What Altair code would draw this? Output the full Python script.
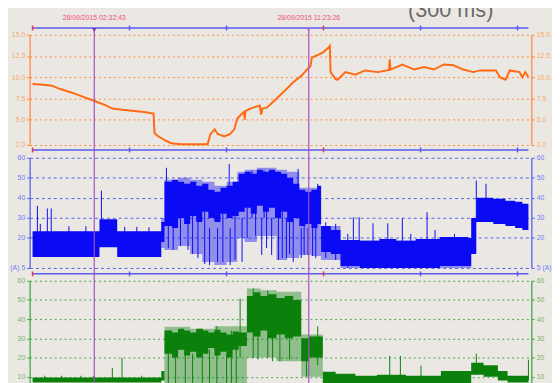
import altair as alt
import pandas as pd

# ---- time axis: hours since 28/09/2015 00:00 ----
X_DOMAIN = [-0.12, 20.57]
time_line_t = [0.0]
time_line_t2 = [20.45]
time_tick_t = [0, 4, 8, 12, 16, 20]
time_tick_col = ["#e83a3a", "#5a5af0", "#5a5af0", "#e83a3a", "#5a5af0", "#5a5af0"]

cursor_t = [2.5453, 11.3906]
cursor_label = ["28/09/2015 02:32:43", "28/09/2015 11:23:26"]
cursor_fill = ["#6a1f8a", "#b070d0"]

# ---- orange series ----
orange_t = [0.00, 0.45, 0.80, 1.14, 1.60, 2.07, 2.64, 3.00, 3.29, 3.70,
            4.10, 4.60, 4.99, 5.03, 5.15, 5.31, 5.50, 5.72, 6.13, 6.70,
            7.22, 7.34, 7.51, 7.63, 7.91, 8.15, 8.32, 8.44, 8.60, 8.72,
            8.75, 8.78, 8.97, 9.37, 9.43, 9.48, 9.66, 10.06, 10.40, 10.75,
            11.10, 11.40, 11.46, 11.52, 11.97, 12.21, 12.26, 12.29, 12.49, 12.58,
            12.90, 13.31, 13.71, 14.24, 14.70, 14.73, 14.76, 15.25, 15.74, 16.15,
            16.55, 16.96, 17.36, 17.77, 18.17, 18.46, 19.11, 19.27, 19.51, 19.68,
            20.08, 20.20, 20.32, 20.45]
orange_v = [9.2, 9.1, 9.0, 8.6, 8.2, 7.7, 7.1, 6.7, 6.3, 6.15,
            6.05, 5.9, 5.7, 3.4, 3.1, 2.8, 2.5, 2.2, 2.1, 2.1,
            2.1, 3.3, 3.85, 3.3, 3.0, 3.3, 3.85, 5.1, 5.6, 5.9,
            5.0, 6.0, 6.3, 6.65, 5.6, 6.3, 6.4, 7.45, 8.4, 9.4,
            10.2, 11.15, 11.3, 12.3, 12.9, 13.5, 13.7, 10.6, 9.8, 9.7,
            10.6, 10.3, 10.8, 10.6, 10.85, 12.1, 10.9, 11.5, 10.9, 11.2,
            10.9, 11.5, 11.4, 10.9, 10.6, 10.8, 10.8, 10.0, 9.7, 10.8,
            10.6, 10.0, 10.6, 10.0]
orange_ticks = [2, 5, 7.5, 10, 12.5, 15]

# ---- blue series (envelopes) ----
blue_t = [0.00, 2.76, 3.49, 5.31, 5.44,
          5.75, 6.00, 6.25, 6.50, 6.75, 7.00, 7.25, 7.50, 7.75, 8.00, 8.25, 8.50, 8.75,
          9.00, 9.25, 9.50, 9.75, 10.00, 10.25, 10.50, 10.75, 11.00, 11.25, 11.50, 11.75,
          11.90, 12.30, 12.70,
          13.50, 14.30, 15.00, 15.80, 16.80, 17.97,
          18.09, 18.30, 19.00, 19.50, 19.90, 20.20, 20.45]
blue_lo = [10.5, 15.4, 10.5, 18, 26,
           25, 30, 27, 31, 28, 33, 30, 28, 32, 30, 31, 33, 35,
           32, 36, 33, 35, 30, 33, 28, 30, 26, 27, 25, 27,
           13, 12, 6,
           5, 5, 5, 5, 6, 6,
           12, 28, 27, 26, 25, 24, 24]
blue_hi = [23.3, 29.3, 23.3, 28, 48,
           49, 48, 47, 48, 46, 47, 44, 43, 45, 46, 48, 52, 53,
           52, 54, 53, 54, 53, 52, 50, 47, 44, 43, 44, 46,
           26, 24, 19,
           18.5, 19.5, 18.5, 19.5, 20.4, 20,
           30, 40, 39.5, 38.5, 38, 37, 37]
blue_env_t = [5.31, 5.44, 6.00, 6.50, 7.00, 7.50, 8.00, 8.44, 8.75, 9.25, 10.06, 10.50,
              11.00, 11.50, 11.89, 12.70, 18.09]
blue_env_lo = [15, 14, 16, 12, 8, 6.5, 8, 20, 18, 21, 9, 10, 11.5, 11, 9, 5, 5]
blue_env_hi = [30, 49, 50, 49, 48, 46, 48, 53, 54, 55, 54, 53, 45, 45, 26, 19, 19]
blue_spk_t = [0.20, 0.32, 0.61, 0.77, 1.50, 2.20, 2.84, 3.80, 4.30, 4.80,
              5.52, 5.60, 5.80, 6.10, 6.41, 6.60, 6.82, 7.10, 7.30, 7.63,
              7.85, 8.11, 8.15, 8.35, 8.64, 8.85, 9.05, 9.20, 9.45, 9.55,
              9.65, 9.86, 10.14, 10.30, 10.47, 10.60, 10.75, 10.95, 11.08, 11.20,
              11.36, 11.55, 11.68, 11.76, 12.09, 12.50, 13.00, 13.23, 13.47, 14.04,
              14.65, 15.25, 15.60, 16.27, 16.60, 17.40, 18.30, 18.70]
blue_spk_lo = [20, 20, 20, 20, 22, 22, 25, 22, 22, 22,
               30, 15, 14, 16, 14, 12, 10, 7, 6.5, 8,
               8, 30, 6.5, 9, 8, 20, 30, 21, 11.5, 30,
               15, 11.5, 9, 10, 10, 12, 8, 30, 10, 11.5,
               11.5, 11, 10, 30, 10, 9, 5, 10, 10, 10,
               10, 10, 5, 10, 5, 6, 30, 30]
blue_spk_hi = [36, 27, 34.7, 34.7, 25.8, 25.8, 43.6, 25.5, 25.5, 25.3,
               55, 26, 30, 30, 30, 31, 30, 33, 25, 25,
               32, 57, 25, 31, 30, 35, 53.6, 36, 30, 53.6,
               35, 30, 30, 33, 30, 28, 30, 54.5, 25, 27,
               25, 25, 25, 47, 27.8, 27, 22, 30.3, 30.3, 27.3,
               27.3, 29.8, 22, 32.8, 24, 22, 48.6, 47]
blue_ticks = [5, 20, 30, 40, 50, 60]

# ---- green series ----
green_t = [0.00, 5.31, 5.44, 5.75, 6.00, 6.25, 6.50, 6.75, 7.00, 7.25, 7.50, 7.75, 8.00,
           8.25, 8.50, 8.84, 9.10, 9.40, 9.70, 10.06, 10.40, 10.75, 11.08, 11.40,
           11.97, 12.50, 13.31, 14.20, 15.40, 16.84, 18.09, 18.60, 19.19, 19.59, 20.45]
green_lo = [7, 8, 22, 20, 24, 21, 23, 20, 22, 25, 21, 23, 20,
            24, 26, 33, 31, 34, 30, 32, 30, 31, 18, 20,
            6, 6, 6, 6, 6, 6, 11, 10, 8, 7, 7]
green_hi = [9.5, 13, 34, 33, 35, 34, 33, 35, 34, 33, 34.5, 33, 32,
            33.5, 33, 52, 54, 52, 53, 51, 52, 50, 30, 31,
            12.5, 11.5, 10.5, 11, 10.5, 13, 17.2, 16, 13, 10.5, 10.5]
green_env_t = [5.44, 6.50, 7.50, 8.84, 9.40, 10.06, 11.08, 11.97]
green_env_lo = [3, 4, 3, 19.8, 20, 18, 10, 10]
green_env_hi = [36, 35, 36.3, 56, 55, 54.3, 32, 32]
green_spk_t = [0.50, 1.20, 2.00, 2.50, 3.29, 3.69, 4.50, 5.60, 5.90, 6.30,
               6.60, 7.00, 7.30, 7.60, 8.00, 8.20, 8.40, 8.56, 9.10, 9.30,
               9.70, 9.90, 10.20, 10.60, 11.30, 11.76, 14.73, 15.17, 16.02, 18.30,
               20.45]
green_spk_lo = [8, 8, 8, 8, 8, 8, 8, 3, 3, 5,
                4, 4, 3, 3, 5, 5, 4, 20, 19.8, 19,
                19.8, 18, 18, 19, 10, 16, 8, 8, 8, 11,
                8]
green_spk_hi = [10.5, 10.5, 10.5, 10.5, 14.6, 19.8, 10.5, 34, 22, 34,
                22, 35, 24, 36.3, 22, 34, 25, 50.7, 56, 32,
                55, 31, 50, 32, 19, 36.3, 20.8, 20.8, 15.7, 21.9,
                18.8]
green_ticks = [0, 10, 20, 30, 40, 50, 60]

# ---- styling ----
BG = "#ebe8e4"
OR_LINE, OR_AX, OR_LAB = "#ff6a13", "#ff8b3d", "#f5a868"
BL_LINE, BL_AX, BL_LAB = "#0a0af5", "#5560f0", "#6f7cf0"
GR_LINE, GR_AX, GR_LAB = "#0b800b", "#3fa64a", "#74b46a"
TL_COL = "#5a5af0"
CURSOR = "#a64fc6"
DATE_COL = "#ee4f78"
W = 510
H_OR, H_BL, H_GR = 112, 112, 117
GAP = 13

xenc = alt.X("t:Q", scale=alt.Scale(domain=X_DOMAIN, nice=False, zero=False), axis=None)

cursor_df = pd.DataFrame({"t": cursor_t, "label": cursor_label, "fill": cursor_fill})
tl_df = pd.DataFrame({"t": time_line_t, "t2": time_line_t2})
tt_df = pd.DataFrame({"t": time_tick_t, "c": time_tick_col})


def axes_layers(domain, ticks, ax_col, lab_col, dash, left_expr, right_expr):
    yscale = alt.Scale(domain=domain, nice=False, zero=False)
    df = pd.DataFrame({"v": ticks})
    common = dict(values=ticks, domainColor=ax_col, domainWidth=1.3, tickColor=ax_col,
                  tickSize=3, tickWidth=1, labelColor=lab_col, labelFont="Liberation Sans",
                  labelFontSize=7, labelPadding=2, title=None)
    left = alt.Chart(df).mark_point(opacity=0).encode(
        y=alt.Y("v:Q", scale=yscale, axis=alt.Axis(orient="left", grid=True, gridColor=ax_col,
                                                   gridDash=dash, gridWidth=1,
                                                   labelExpr=left_expr, **common)))
    right = alt.Chart(df).mark_point(opacity=0).encode(
        y=alt.Y("v:Q", scale=yscale, axis=alt.Axis(orient="right", grid=False,
                                                   labelExpr=right_expr, **common)))
    return yscale, left, right


def time_line(yp):
    line = alt.Chart(tl_df).mark_rule(color=TL_COL, strokeWidth=1.5).encode(
        x=xenc, x2="t2:Q", y=alt.value(yp))
    ticks = alt.Chart(tt_df).mark_rule(strokeWidth=1.5).encode(
        x=xenc, y=alt.value(yp - 2.5), y2=alt.value(yp + 2.5), color=alt.Color("c:N", scale=None))
    return [line, ticks]


def cursors(y0, y1):
    return alt.Chart(cursor_df).mark_rule(color=CURSOR, strokeWidth=1.2).encode(
        x=xenc, y=alt.value(y0), y2=alt.value(y1))


def band(t, lo, hi, yscale, color, opacity, interp="step-after"):
    df = pd.DataFrame({"t": t, "lo": lo, "hi": hi})
    return alt.Chart(df).mark_area(interpolate=interp, color=color, opacity=opacity).encode(
        x=xenc, y=alt.Y("lo:Q", scale=yscale, axis=None), y2="hi:Q")


def spikes(t, lo, hi, yscale, color):
    df = pd.DataFrame({"t": t, "lo": lo, "hi": hi})
    return alt.Chart(df).mark_rule(color=color, strokeWidth=1).encode(
        x=xenc, y=alt.Y("lo:Q", scale=yscale, axis=None), y2="hi:Q")


# ---- orange panel ----
ys_o, ax_ol, ax_or = axes_layers([2, 15], orange_ticks, OR_AX, OR_LAB, [2, 3],
                                 "format(datum.value, '.1f')", "format(datum.value, '.1f')")
orange_df = pd.DataFrame({"t": orange_t, "v": orange_v})
o_line = alt.Chart(orange_df).mark_line(color=OR_LINE, strokeWidth=2).encode(
    x=xenc, y=alt.Y("v:Q", scale=ys_o, axis=None))
o_labels = alt.Chart(cursor_df).mark_text(fontSize=7, color=DATE_COL, font="Liberation Sans",
                                          baseline="middle").encode(
    x=xenc, y=alt.value(-17), text="label:N")
o_marks = alt.Chart(cursor_df).mark_point(shape="triangle-down", filled=True, size=22).encode(
    x=xenc, y=alt.value(-5), color=alt.Color("fill:N", scale=None))
o_title = alt.Chart(pd.DataFrame({"k": [0]})).mark_text(
    fontSize=22, color="#6a6a6a", font="Liberation Sans", baseline="alphabetic").encode(
    x=alt.value(428), y=alt.value(-18), text=alt.value("(300 ms)"))
orange = alt.layer(ax_ol, ax_or, o_line, *time_line(-7), *time_line(H_OR + 5),
                   cursors(-7, H_OR + GAP), o_marks, o_labels, o_title
                   ).resolve_scale(y="shared").resolve_axis(y="independent").properties(
    width=W, height=H_OR)

# ---- blue panel ----
ys_b, ax_bl, ax_br = axes_layers([5, 60], blue_ticks, BL_AX, BL_LAB, [3, 3],
                                 "datum.value == 5 ? '(A) 5' : datum.label",
                                 "datum.value == 5 ? '5 (A)' : datum.label")
blue = alt.layer(ax_bl, ax_br,
                 band(blue_env_t, blue_env_lo, blue_env_hi, ys_b, BL_LINE, 0.4),
                 band(blue_t, blue_lo, blue_hi, ys_b, BL_LINE, 1.0),
                 spikes(blue_spk_t, blue_spk_lo, blue_spk_hi, ys_b, BL_LINE),
                 *time_line(H_BL + 6), cursors(0, H_BL + GAP)
                 ).resolve_scale(y="shared").resolve_axis(y="independent").properties(
    width=W, height=H_BL)

# ---- green panel ----
ys_g, ax_gl, ax_gr = axes_layers([0, 60], green_ticks, GR_AX, GR_LAB, [2, 3],
                                 "datum.label", "datum.label")
green = alt.layer(ax_gl, ax_gr,
                  band(green_env_t, green_env_lo, green_env_hi, ys_g, GR_LINE, 0.4),
                  band(green_t, green_lo, green_hi, ys_g, GR_LINE, 1.0),
                  spikes(green_spk_t, green_spk_lo, green_spk_hi, ys_g, GR_LINE),
                  cursors(0, H_GR)
                  ).resolve_scale(y="shared").resolve_axis(y="independent").properties(
    width=W, height=H_GR)

chart = alt.vconcat(orange, blue, green, spacing=GAP, bounds="flush").properties(
    background=BG, padding={"left": 1, "top": -12, "right": 0, "bottom": 0}
).configure_view(stroke=None)

chart.save("out.html", embed_options={"renderer": "svg", "actions": False})
